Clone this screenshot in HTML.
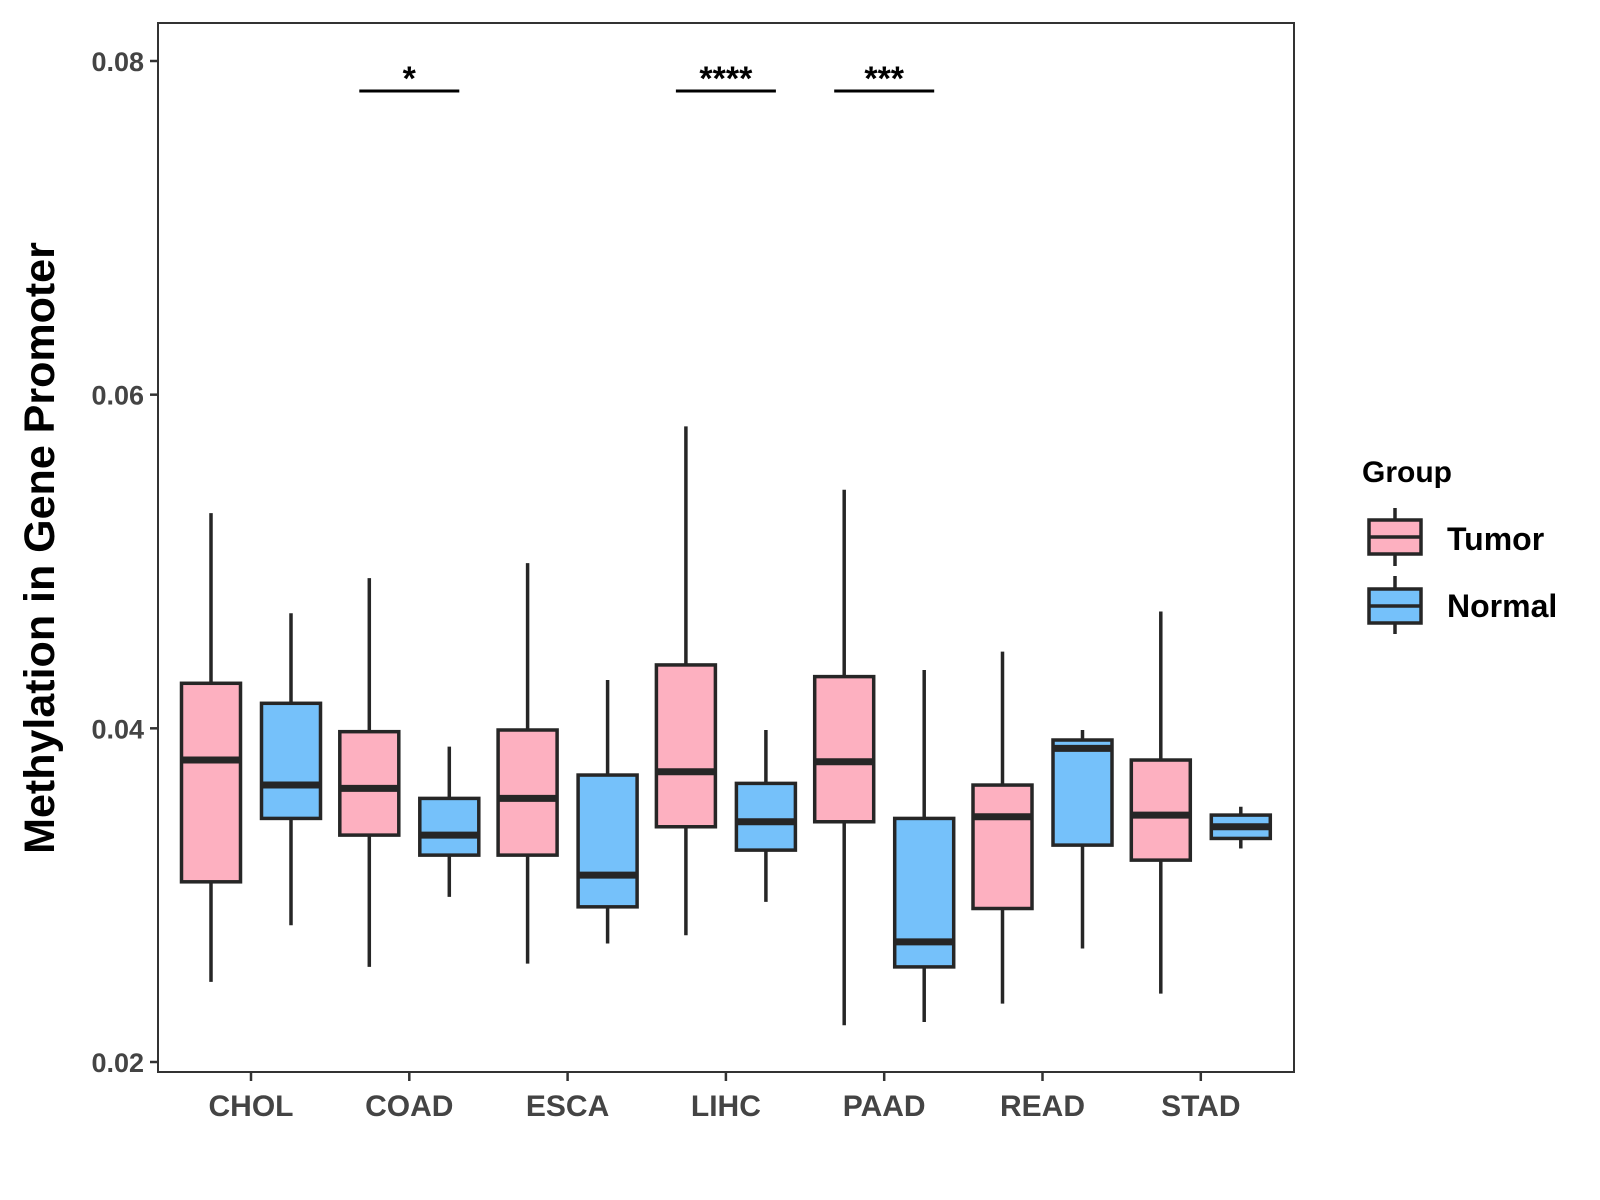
<!DOCTYPE html>
<html><head><meta charset="utf-8"><style>
body{margin:0;background:#fff;}
svg{display:block;font-family:"Liberation Sans",Arial,sans-serif;}
</style></head><body>
<svg id="chart" width="1600" height="1200" viewBox="0 0 1600 1200">
<rect x="0" y="0" width="1600" height="1200" fill="#fff"/>
<g id="plot"></g>
<text transform="translate(54,548) rotate(-90)" text-anchor="middle" font-size="43" font-weight="bold" fill="#000">Methylation in Gene Promoter</text>
<g>
<text x="1362" y="482" font-size="30" font-weight="bold" fill="#000">Group</text>
<g>
<line x1="1395" y1="508" x2="1395" y2="566" stroke="#262626" stroke-width="3.5"/>
<rect x="1369" y="520" width="52" height="34" fill="#FDB0C0" stroke="#262626" stroke-width="3.5"/>
<line x1="1369" y1="537" x2="1421" y2="537" stroke="#262626" stroke-width="3.5"/>
<text x="1447" y="550" font-size="32" font-weight="bold" fill="#000">Tumor</text>
</g>
<g>
<line x1="1395" y1="576" x2="1395" y2="634" stroke="#262626" stroke-width="3.5"/>
<rect x="1369" y="589" width="52" height="34" fill="#75C1FA" stroke="#262626" stroke-width="3.5"/>
<line x1="1369" y1="606" x2="1421" y2="606" stroke="#262626" stroke-width="3.5"/>
<text x="1447" y="617" font-size="32" font-weight="bold" fill="#000">Normal</text>
</g>
</g>
</svg>
<script>
const categories = ["CHOL","COAD","ESCA","LIHC","PAAD","READ","STAD"];
// [whiskerLow, q1, median, q3, whiskerHigh]
const tumorStats = [
 [0.0248,0.0308,0.0381,0.0427,0.0529],
 [0.0257,0.0336,0.0364,0.0398,0.0490],
 [0.0259,0.0324,0.0358,0.0399,0.0499],
 [0.0276,0.0341,0.0374,0.0438,0.0581],
 [0.0222,0.0344,0.0380,0.0431,0.0543],
 [0.0235,0.0292,0.0347,0.0366,0.0446],
 [0.0241,0.0321,0.0348,0.0381,0.0470]
];
const normalStats = [
 [0.0282,0.0346,0.0366,0.0415,0.0469],
 [0.0299,0.0324,0.0336,0.0358,0.0389],
 [0.0271,0.0293,0.0312,0.0372,0.0429],
 [0.0296,0.0327,0.0344,0.0367,0.0399],
 [0.0224,0.0257,0.0272,0.0346,0.0435],
 [0.0268,0.0330,0.0388,0.0393,0.0399],
 [0.0328,0.0334,0.0341,0.0348,0.0353]
];
const yTicks = [0.02,0.04,0.06,0.08];
const yTickLabels = ["0.02","0.04","0.06","0.08"];
const sigCategories = ["COAD","LIHC","PAAD"];
const sigLabels = ["*","****","***"];
const sigLevel = 0.0782;

const L=158,T=23,R=1294,B=1072;
const y=v=>61+(0.08-v)*(1062-61)/0.06;
const x=i=>251+i*158.3;
const NS="http://www.w3.org/2000/svg";
const plot=document.getElementById('plot');
function mk(tag,attrs,parent){const e=document.createElementNS(NS,tag);for(const k in attrs)e.setAttribute(k,attrs[k]);(parent||plot).appendChild(e);return e;}
const C="#262626",SW=3.5,BW=59,OFF=40;
mk('rect',{x:L,y:T,width:R-L,height:B-T,fill:'none',stroke:'#333',"stroke-width":2});
yTicks.forEach((t,i)=>{
  const g=mk('g',{});
  
  
  mk('line',{x1:L-8,x2:L,y1:y(t),y2:y(t),stroke:'#333',"stroke-width":2.5},g);
  const tx=mk('text',{x:L-14,y:y(t)+10,"text-anchor":"end","font-size":27,"font-weight":"bold",fill:"#444"},g);
  tx.textContent=yTickLabels[i];
});
categories.forEach((c,i)=>{
  const g=mk('g',{});
  
  
  mk('line',{x1:x(i),x2:x(i),y1:B,y2:B+9,stroke:'#333',"stroke-width":2.5},g);
  const tx=mk('text',{x:x(i),y:B+44,"text-anchor":"middle","font-size":30,"font-weight":"bold",fill:"#444"},g);
  tx.textContent=c;
  [[tumorStats[i],-OFF,'#FDB0C0','tumor'],[normalStats[i],OFF,'#75C1FA','normal']].forEach(([s,o,f,n])=>{
    const cx=x(i)+o;
    const b=mk('g',{});
    
    
    mk('line',{x1:cx,x2:cx,y1:y(s[0]),y2:y(s[4]),stroke:C,"stroke-width":SW},b);
    mk('rect',{x:cx-BW/2,y:y(s[3]),width:BW,height:y(s[1])-y(s[3]),fill:f,stroke:C,"stroke-width":SW},b);
    mk('line',{x1:cx-BW/2,x2:cx+BW/2,y1:y(s[2]),y2:y(s[2]),stroke:C,"stroke-width":7},b);
  });
});
sigCategories.forEach((c,k)=>{
  const i=categories.indexOf(c);
  const g=mk('g',{});
  
  
  mk('line',{x1:x(i)-50,x2:x(i)+50,y1:y(sigLevel),y2:y(sigLevel),stroke:'#000',"stroke-width":3},g);
  const tx=mk('text',{x:x(i),y:y(sigLevel)-1,"text-anchor":"middle","font-size":34,"font-weight":"bold",fill:"#000"},g);
  tx.textContent=sigLabels[k];
});
</script>
</body></html>
